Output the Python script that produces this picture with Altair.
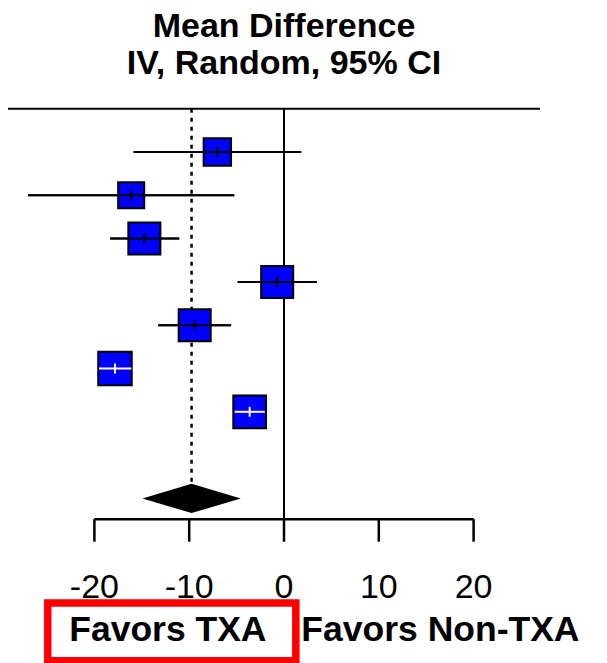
import altair as alt
import pandas as pd

# ---- data ----
study_rows = [1, 2, 3, 4, 5, 6, 7]
estimates = [-7.03, -16.12, -14.73, -0.72, -9.42, -17.83, -3.62]
ci_low = [-15.86, -27.0, -18.35, -4.88, -13.26, -19.51, -5.21]
ci_high = [1.81, -5.25, -11.05, 3.45, -5.58, -16.10, -2.03]
weights = [11.2, 10.1, 15.3, 15.3, 15.3, 16.8, 16.0]

pooled_est = -9.75
pooled_low = -14.93
pooled_high = -4.56
pooled_row = 9

axis_ticks = [-20, -10, 0, 10, 20]
title_lines = ["Mean Difference", "IV, Random, 95% CI"]
side_labels = ["Favors TXA", "Favors Non-TXA"]

# ---- layout ----
W, H = 591, 655
PX_PER_UNIT = 9.48
ROW_PX = 43.3
X0_INNER = 276.0      # pixel of x = 0 inside the plot
ROW0_INNER = 100.7    # pixel of row 0 inside the plot
x_dom = [-X0_INNER / PX_PER_UNIT, (W - X0_INNER) / PX_PER_UNIT]
y_dom = [-ROW0_INNER / ROW_PX, (H - ROW0_INNER) / ROW_PX]

xs = alt.Scale(domain=x_dom, nice=False, zero=False)
ys = alt.Scale(domain=y_dom, nice=False, zero=False, reverse=True)
FONT = "Liberation Sans"

def X(f="x"):
    return alt.X(f"{f}:Q", scale=xs, axis=None)

def Y(f="y"):
    return alt.Y(f"{f}:Q", scale=ys, axis=None)

SIZE_K = 67.04  # px^2 per weight unit
studies = pd.DataFrame({"y": study_rows, "x": estimates, "lo": ci_low,
                        "hi": ci_high, "w": weights})
side_px = (studies["w"] * SIZE_K) ** 0.5 + 2
studies["inside"] = ((studies["hi"] - studies["lo"]) * PX_PER_UNIT < side_px).map(
    {True: "in", False: "out"})
studies["t0"] = studies["y"] - 5 / ROW_PX
studies["t1"] = studies["y"] + 5 / ROW_PX

top_row = 0
axis_row = 9.48
tick_end_row = 10.0
ci_color = alt.Color("inside:N", scale=alt.Scale(domain=["in", "out"], range=["white", "black"]),
                     legend=None)

layers = []

# top horizontal line
layers.append(alt.Chart(pd.DataFrame({"x": [x_dom[0]], "x2": [27.0], "y": [top_row]}))
              .mark_rule(color="black", strokeWidth=2)
              .encode(x=X(), x2="x2:Q", y=Y()))
# zero line
layers.append(alt.Chart(pd.DataFrame({"x": [0], "y": [top_row], "y2": [axis_row]}))
              .mark_rule(color="black", strokeWidth=2)
              .encode(x=X(), y=Y(), y2="y2:Q"))
# dotted pooled line
layers.append(alt.Chart(pd.DataFrame({"x": [pooled_est], "y": [top_row],
                                      "y2": [pooled_row - 0.36]}))
              .mark_rule(color="black", strokeWidth=2.5, strokeDash=[4, 5])
              .encode(x=X(), y=Y(), y2="y2:Q"))
# CI lines (under squares)
layers.append(alt.Chart(studies).mark_rule(color="black", strokeWidth=2)
              .encode(x=X("lo"), x2="hi:Q", y=Y()))
# squares
layers.append(alt.Chart(studies).mark_square(color="#0000FF", fill="#0000FF",
                                             stroke="black", strokeWidth=2, opacity=1)
              .encode(x=X(), y=Y(),
                      size=alt.Size("w:Q", scale=alt.Scale(domain=[0, 20], range=[0, 20 * SIZE_K]),
                                    legend=None)))
# CI lines over squares
layers.append(alt.Chart(studies).mark_rule(strokeWidth=2)
              .encode(x=X("lo"), x2="hi:Q", y=Y(), color=ci_color))
# estimate ticks
layers.append(alt.Chart(studies).mark_rule(strokeWidth=2)
              .encode(x=X(), y=Y("t0"), y2="t1:Q", color=ci_color))
# pooled diamond
dh = 0.34
diamond = pd.DataFrame({"x": [pooled_low, pooled_est, pooled_high],
                        "y": [pooled_row, pooled_row - dh, pooled_row],
                        "y2": [pooled_row, pooled_row + dh, pooled_row]})
layers.append(alt.Chart(diamond).mark_area(color="black", orient="vertical")
              .encode(x=X(), y=Y(), y2="y2:Q"))
# axis line and ticks
layers.append(alt.Chart(pd.DataFrame({"x": [axis_ticks[0]], "x2": [axis_ticks[-1]], "y": [axis_row]}))
              .mark_rule(color="black", strokeWidth=2.5)
              .encode(x=X(), x2="x2:Q", y=Y()))
ticks = pd.DataFrame({"x": axis_ticks, "y": [axis_row] * 5, "y2": [tick_end_row] * 5,
                      "label": [str(t) for t in axis_ticks], "ly": [11.31] * 5})
layers.append(alt.Chart(ticks).mark_rule(color="black", strokeWidth=2.5)
              .encode(x=X(), y=Y(), y2="y2:Q"))
layers.append(alt.Chart(ticks).mark_text(font=FONT, fontSize=34, color="black",
                                         align="center", baseline="alphabetic")
              .encode(x=X(), y=Y("ly"), text="label:N"))
# title
title_df = pd.DataFrame({"x": [0, 0], "y": [-1.66, -0.80], "t": title_lines})
layers.append(alt.Chart(title_df).mark_text(font=FONT, fontSize=34, fontWeight="bold",
                                            color="black", align="center", baseline="alphabetic")
              .encode(x=X(), y=Y(), text="t:N"))
# favors labels
fav_df = pd.DataFrame({"x": [-12.25, 16.50], "y": [12.30, 12.30], "t": side_labels})
layers.append(alt.Chart(fav_df).mark_text(font=FONT, fontSize=35.5, fontWeight="bold",
                                          color="black", align="center", baseline="alphabetic")
              .encode(x=X(), y=Y(), text="t:N"))
# red highlight box around "Favors TXA"
box = pd.DataFrame({"x": [-24.92], "x2": [1.25], "y": [11.415], "y2": [12.75]})
layers.append(alt.Chart(box).mark_rect(filled=False, stroke="#FF0000", strokeWidth=7.5)
              .encode(x=X(), x2="x2:Q", y=Y(), y2="y2:Q"))

chart = (alt.layer(*layers)
         .properties(width=W, height=H, padding=0, autosize="none")
         .configure_view(stroke=None))

chart.save("out.html", embed_options={"renderer": "svg", "actions": False})
